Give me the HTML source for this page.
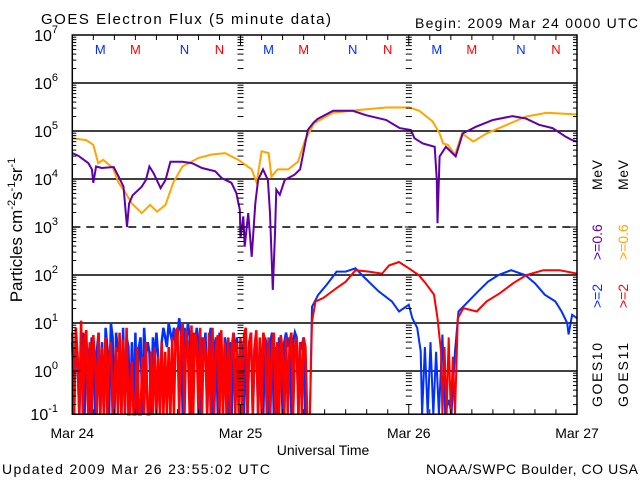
<!DOCTYPE html>
<html><head><meta charset="utf-8"><style>
html,body{margin:0;padding:0;background:#fff;}
svg{display:block;font-family:"Liberation Sans",sans-serif;}
</style></head><body>
<svg id="chart" width="640" height="480" viewBox="0 0 640 480">
<rect width="640" height="480" fill="#fff"/>
<text x="41" y="24" font-size="15" textLength="290">GOES Electron Flux (5 minute data)</text>
<text x="415" y="28" font-size="14" textLength="223">Begin: 2009 Mar 24 0000 UTC</text>
<g id="grid"></g>
<g id="series"></g>
<g id="axes"></g>
<text transform="translate(22,230) rotate(-90)" text-anchor="middle" font-size="17">Particles cm<tspan dy="-7" font-size="11">-2</tspan><tspan dy="7">s</tspan><tspan dy="-7" font-size="11">-1</tspan><tspan dy="7">sr</tspan><tspan dy="-7" font-size="11">-1</tspan></text>
<g font-size="14">
<text transform="translate(602,407) rotate(-90)" textLength="64">GOES10</text>
<text transform="translate(602,308) rotate(-90)" fill="#0030ff">&gt;=2</text>
<text transform="translate(602,260) rotate(-90)" fill="#6000a8">&gt;=0.6</text>
<text transform="translate(602,190) rotate(-90)" textLength="30">MeV</text>
<text transform="translate(628,407) rotate(-90)" textLength="64">GOES11</text>
<text transform="translate(628,308) rotate(-90)" fill="#ff0000">&gt;=2</text>
<text transform="translate(628,260) rotate(-90)" fill="#ffa500">&gt;=0.6</text>
<text transform="translate(628,190) rotate(-90)" textLength="30">MeV</text>
</g>
<text x="323" y="455" text-anchor="middle" font-size="14">Universal Time</text>
<text x="2" y="474" font-size="14" textLength="268">Updated 2009 Mar 26 23:55:02 UTC</text>
<text x="638" y="474" text-anchor="end" font-size="14" textLength="212">NOAA/SWPC Boulder, CO USA</text>
</svg>
<script>
// ---- data (hours since 2009 Mar 24 0000 UTC, log10 flux) ----
const xTickLabels = ["Mar 24", "Mar 25", "Mar 26", "Mar 27"];
const yTickExps = [-1, 0, 1, 2, 3, 4, 5, 6, 7];
const markerHours = [4, 9, 16, 21, 28, 33, 40, 45, 52, 57, 64, 69];
const markerLabels = ["M","M","N","N","M","M","N","N","M","M","N","N"];
const markerSat = [10,11,10,11,10,11,10,11,10,11,10,11];

const purpleHours = [0,0.9,2.3,2.8,3.0,3.4,4.2,5.9,6.6,7.3,7.8,8.1,8.6,9.9,10.5,11.0,11.6,12.6,13.3,14.0,15.7,17.1,18.5,20.4,21.3,22.7,23.4,23.9,24.0,24.4,24.6,25.1,25.6,26.1,26.5,27.2,27.9,28.2,28.6,28.9,29.1,29.6,30.3,31.7,32.5,33.6,34.4,35.0,37.2,40.0,41.9,44.8,46.7,48.3,48.8,50.0,51.7,52.0,52.1,52.4,53.3,54.7,55.7,57.6,60.0,62.8,64.7,66.6,68.5,70.4,71.3,72];
const purpleLog = [4.54,4.48,4.33,4.2,3.92,4.26,4.23,4.25,4.05,3.84,3.0,3.49,3.66,3.84,3.98,4.26,4.12,3.81,3.98,4.36,4.36,4.33,4.23,4.16,4.02,3.92,3.71,3.36,2.77,3.22,2.59,3.29,2.38,3.49,3.98,4.2,3.98,3.29,1.69,2.8,3.78,3.67,3.98,4.09,4.2,5.02,5.17,5.25,5.42,5.42,5.33,5.23,5.06,5.02,4.85,4.74,4.67,3.98,3.08,4.47,4.67,4.47,4.95,5.09,5.23,5.31,5.26,5.13,5.06,4.88,4.81,4.78];

const orangeHours = [0,2.0,3.0,3.7,4.4,5.8,6.6,7.6,8.5,9.9,11.1,12.1,13.3,14.4,15.7,18.0,19.9,21.8,23.7,25.6,26.3,27.0,28.0,28.4,29.3,30.8,32.2,33.2,34.5,37.2,41.0,44.8,48.1,49.5,51.4,52.4,52.9,53.6,54.6,55.6,57.2,59.1,62.0,64.7,67.7,71.5,72];
const orangeLog = [4.85,4.81,4.71,4.33,4.40,4.23,3.92,3.71,3.49,3.29,3.46,3.32,3.46,3.92,4.26,4.44,4.51,4.54,4.40,4.20,3.92,4.58,4.54,4.05,4.20,4.20,4.36,4.81,5.16,5.38,5.44,5.49,5.49,5.42,5.2,4.95,4.74,4.71,4.5,4.95,4.78,4.95,5.13,5.3,5.38,5.35,5.35];

const noiseStep = 0.25; // hours between noisy samples starting at hour 0
const blueNoise = [0.6,-0.9,0.7,0.2,-0.9,0.5,0.8,-0.9,0.6,0.3,-0.9,0.7,0.5,-0.9,0.4,0.8,-0.9,0.6,-0.9,0.9,0.5,-0.9,1.0,0.7,-0.9,0.8,0.4,0.6,-0.9,0.9,-0.9,0.7,0.5,-0.9,0.6,-0.9,0.8,-0.9,0.5,0.7,-0.9,0.9,0.3,0.6,0.4,-0.9,0.7,0.2,0.8,0.3,-0.9,0.6,0.9,0.7,0.5,1.0,0.8,0.6,0.9,0.5,0.7,1.1,0.8,-0.9,0.9,0.6,1.0,0.7,-0.9,0.8,0.5,0.9,0.6,-0.9,0.7,0.4,0.8,-0.9,0.6,0.9,-0.9,0.5,0.7,-0.9,0.8,0.6,-0.9,0.7,0.5,-0.9,0.6,-0.9,0.8,0.4,0.7,-0.9,0.6,0.5,-0.9,0.7,-0.9,0.6,0.8,-0.9,0.5,0.7,-0.9,0.6,0.3,-0.9,0.7,0.5,-0.9,0.6,0.8,-0.9,0.5,-0.9,0.7,0.4,-0.9,0.6,0.8,0.5,0.7,-0.9,0.6,0.8,0.7,-0.9,0.6,0.5,0.7,-0.9];
const redNoise = [0.8,-0.9,0.9,0.3,-0.9,1.05,-0.9,0.7,0.85,-0.9,0.6,-0.9,0.75,0.2,-0.9,0.8,-0.9,0.5,-0.9,0.7,-0.9,0.3,0.6,-0.9,-0.4,0.5,-0.9,0.8,-0.9,0.65,-0.9,0.9,-0.9,-0.9,0.2,-0.9,-0.9,0.5,-0.9,-0.9,0.3,-0.9,0.6,-0.9,-0.9,0.4,-0.9,0.5,-0.9,0.3,-0.9,0.6,-0.9,0.4,-0.9,0.5,-0.9,0.7,-0.9,0.8,0.9,-0.9,0.7,1.0,-0.9,0.85,0.4,-0.9,0.95,-0.9,0.8,0.6,-0.9,0.9,-0.9,0.7,0.4,-0.9,0.8,-0.9,0.9,-0.9,0.5,0.75,-0.9,0.85,-0.9,0.6,-0.9,0.7,-0.9,0.5,0.8,-0.9,0.6,-0.9,0.7,-0.9,0.75,0.9,-0.9,0.6,0.8,-0.9,0.5,0.85,-0.9,0.7,-0.9,0.8,0.6,-0.9,0.7,-0.9,0.5,0.8,-0.9,0.6,-0.9,0.75,0.4,-0.9,0.7,-0.9,0.6,0.8,-0.9,0.5,0.7,-0.9,0.6,-0.9,0.7,0.5,-0.9];

const blueHours = [33.9,34.2,35.1,36.3,37.7,39.0,40.4,41.8,43.7,45.6,46.6,48.0,48.5,49.2,49.7,49.9,50.3,50.7,51.1,51.5,51.9,52.3,52.8,53.2,53.7,54.1,54.6,55.1,56.5,57.9,59.3,60.8,62.6,64.6,66.0,67.4,68.9,69.8,70.6,70.8,71.3,72];
const blueLog = [-0.9,1.34,1.59,1.80,2.07,2.07,2.14,1.93,1.66,1.45,1.24,1.38,1.1,0.9,0.41,-0.9,0.5,-0.9,0.6,-0.9,0.4,-0.9,0.76,-0.9,-0.6,-0.9,0.41,1.24,1.45,1.66,1.86,2.0,2.1,2.0,1.83,1.59,1.45,1.24,1.0,0.76,1.17,1.1];
const redHours = [33.9,34.2,34.7,35.8,37.7,39.0,40.4,42.3,44.2,45.2,46.6,48.0,49.4,50.4,51.6,52.1,52.6,52.8,53.1,53.4,53.7,54.0,54.3,54.6,55.0,55.8,57.7,59.1,61.0,62.9,64.8,67.2,69.5,72];
const redLog = [-0.9,1.03,1.45,1.52,1.73,1.86,2.1,2.07,2.03,2.2,2.27,2.14,2.0,1.83,1.59,1.1,0.41,-0.9,0.5,-0.9,0.7,-0.9,0.3,-0.9,1.1,1.31,1.24,1.45,1.62,1.83,2.0,2.1,2.1,2.03];

// ---- axes ----
const X0 = 72.3, X1 = 577, Y7 = 35, DEC = 48, FLOOR = -0.9;
const xS = h => X0 + (X1 - X0) * h / 72;
const yS = l => Y7 + (7 - Math.max(l, FLOOR)) * DEC;
const Y_BOT = yS(-1);
const NS = "http://www.w3.org/2000/svg";
function mk(tag, attrs, parent) {
  const e = document.createElementNS(NS, tag);
  for (const k in attrs) e.setAttribute(k, attrs[k]);
  parent.appendChild(e);
  return e;
}
const grid = document.getElementById('grid');
const axes = document.getElementById('axes');
const series = document.getElementById('series');

yTickExps.forEach(e => {
  if (e === 7 || e === -1) return;
  const l = mk('line', {x1: X0, x2: X1, y1: yS(e), y2: yS(e), stroke: '#000', 'stroke-width': 1.5}, grid);
  if (e === 3) l.setAttribute('stroke-dasharray', '8,6');
  
  
});

const frame = mk('rect', {x: X0, y: Y7, width: X1 - X0, height: Y_BOT - Y7, fill: 'none', stroke: '#000', 'stroke-width': 1.5}, axes);



function logTicks(x, dirs, name, maj, mnr) {
  const g = mk('g', {stroke: '#000', 'stroke-width': 1}, axes);
  
  
  for (let e = -1; e < 7; e++) {
    for (let m = 1; m <= 9; m++) {
      const y = yS(e + Math.log10(m));
      const len = m === 1 ? maj : mnr;
      dirs.forEach(d => mk('line', {x1: x, x2: x + d * len, y1: y, y2: y}, g));
    }
  }
}
logTicks(X0, [1], 'y-axis-left-ticks', 8, 4);
logTicks(X1, [-1], 'y-axis-right-ticks', 8, 4);
logTicks(xS(24), [1, -1], 'day-divider-mar25', 4, 3);
logTicks(xS(48), [1, -1], 'day-divider-mar26', 4, 3);

const xt = mk('g', {stroke: '#000', 'stroke-width': 1}, axes);


for (let h = 3; h < 72; h += 3) {
  const len = h % 24 === 0 ? 10 : 5;
  mk('line', {x1: xS(h), x2: xS(h), y1: Y_BOT, y2: Y_BOT - len}, xt);
  mk('line', {x1: xS(h), x2: xS(h), y1: Y7, y2: Y7 + len}, xt);
}
xTickLabels.forEach((t, i) => {
  const tx = mk('text', {x: xS(i * 24), y: 438, 'text-anchor': 'middle', 'font-size': 14}, axes);
  tx.textContent = t;
  
  
});
yTickExps.forEach(e => {
  const tx = mk('text', {x: 58, y: yS(e) + 6, 'text-anchor': 'end', 'font-size': 16}, axes);
  tx.textContent = '10';
  const sup = mk('tspan', {dy: -8, 'font-size': 11}, tx);
  sup.textContent = String(e);
  
  
});
markerHours.forEach((h, i) => {
  const tx = mk('text', {x: xS(h), y: 54, 'text-anchor': 'middle', 'font-size': 13, fill: markerSat[i] === 10 ? '#0030ff' : '#ff0000'}, axes);
  tx.textContent = markerLabels[i];
  
  
});

function line(hours, vals, color, name, w) {
  const pts = hours.map((h, i) => xS(h).toFixed(1) + ',' + yS(vals[i]).toFixed(1)).join(' ');
  const p = mk('polyline', {points: pts, fill: 'none', stroke: color, 'stroke-width': w, 'stroke-linejoin': 'miter'}, series);
  
  
}
const noiseHours = blueNoise.map((_, i) => i * noiseStep);
const redNoiseHours = redNoise.map((_, i) => i * noiseStep);
line(noiseHours, blueNoise, '#0030ff', 'goes10-2mev-noise-line', 2.5);
line(blueHours, blueLog, '#0030ff', 'goes10-2mev-line', 2);
line(redNoiseHours, redNoise, '#ff0000', 'goes11-2mev-noise-line', 2.5);
line(redHours, redLog, '#ff0000', 'goes11-2mev-line', 2);
line(orangeHours, orangeLog, '#ffa500', 'goes11-06mev-line', 2);
line(purpleHours, purpleLog, '#6000a8', 'goes10-06mev-line', 2);
</script>
</body></html>
